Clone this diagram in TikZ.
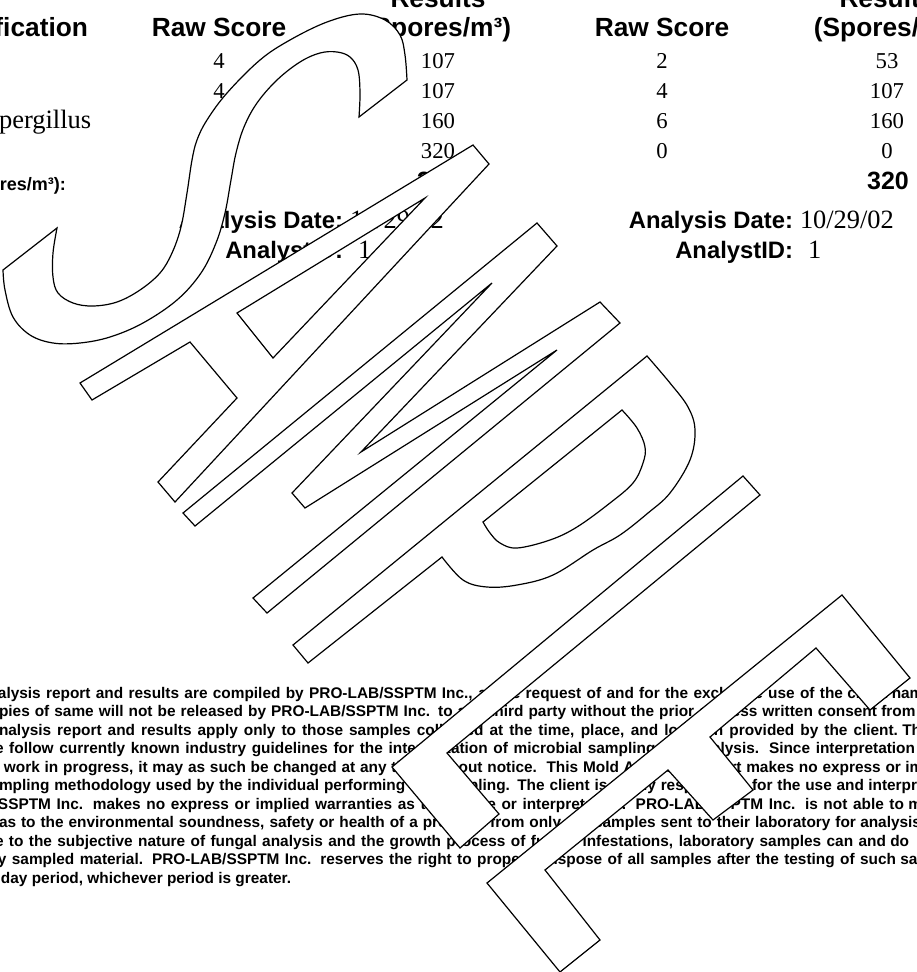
\documentclass[tikz,border=0pt]{standalone}
\usepackage{fontspec}
\setmainfont{Liberation Serif}
\setsansfont{Liberation Sans}
\tikzset{
  hb/.style={font=\sffamily\bfseries\fontsize{26.3}{30}\selectfont, inner sep=0pt, outer sep=0pt, anchor=base},
  lb/.style={font=\sffamily\bfseries\fontsize{23.8}{28}\selectfont, inner sep=0pt, outer sep=0pt, anchor=base east},
  tot/.style={font=\sffamily\bfseries\fontsize{25}{28}\selectfont, inner sep=0pt, outer sep=0pt, anchor=base},
  num/.style={font=\rmfamily\fontsize{22.7}{26}\selectfont, inner sep=0pt, outer sep=0pt, anchor=base},
  nam/.style={font=\rmfamily\fontsize{26.5}{30}\selectfont, inner sep=0pt, outer sep=0pt, anchor=base west},
  val/.style={font=\rmfamily\fontsize{26.4}{30}\selectfont, inner sep=0pt, outer sep=0pt, anchor=base west},
  foot/.style={font=\sffamily\bfseries\fontsize{15.4}{18}\selectfont, inner sep=0pt, outer sep=0pt, anchor=base west},
  wm/.style={draw=black, line width=1.2pt, fill=white, line join=miter},
}
\begin{document}
\begin{tikzpicture}[x=1pt,y=-1pt]
\useasboundingbox (0,0) rectangle (916,972);
\fill[white] (0,0) rectangle (916,972);
\clip (0,0) rectangle (916,972);

% ---------- table header ----------
\node[hb] (res1) at (438,7) {Results};
\node[hb] (res2) at (887,7) {Results};
\node[hb,anchor=base east] (idf) at (88,36) {fication};
\node[hb] (raw1) at (219,36) {Raw Score};
\node[hb] (spo1) at (438,36) {(Spores/m³)};
\node[hb] (raw2) at (662,36) {Raw Score};
\node[hb] (spo2) at (887,36) {(Spores/m³)};

% ---------- table rows ----------
\node[num] (r1a) at (219,68) {4};
\node[num] (r2a) at (219,98) {4};
\node[num] (r1b) at (438,68) {107};
\node[num] (r2b) at (438,98) {107};
\node[num] (r3b) at (438,128) {160};
\node[num] (r4b) at (438,158) {320};
\node[nam] (asp) at (-1,128) {pergillus};
\node[num] (r1c) at (662,68) {2};
\node[num] (r2c) at (662,98) {4};
\node[num] (r3c) at (662,128) {6};
\node[num] (r4c) at (662,158) {0};
\node[num] (r1d) at (887,68) {53};
\node[num] (r2d) at (887,98) {107};
\node[num] (r3d) at (887,128) {160};
\node[num] (r4d) at (887,158) {0};
\node[font=\sffamily\bfseries\fontsize{18}{20}\selectfont, inner sep=0pt, anchor=base east] (totl) at (66,190) {res/m³):};
\node[tot] (tot1) at (438,189) {320};
\node[tot] (tot2) at (888,189) {320};

% ---------- analysis info ----------
\node[lb] (ad1) at (343,228) {Analysis Date:};
\node[val] (dv1) at (350,228) {10/29/02};
\node[lb] (ai1) at (343,258) {AnalystID:};
\node[val] (iv1) at (358,258) {1};
\node[lb] (ad2) at (793,228) {Analysis Date:};
\node[val] (dv2) at (800,228) {10/29/02};
\node[lb] (ai2) at (793,258) {AnalystID:};
\node[val] (iv2) at (808,258) {1};

% ---------- disclaimer ----------
\node[foot] (f1) at (-2,698) {\makebox[845pt][s]{alysis report and results are compiled by PRO-LAB/SSPTM Inc., at the request of and for the exclusive use of the}\ client named};
\node[foot] (f2) at (-1,716.5) {\makebox[878pt][s]{pies of same will not be released by PRO-LAB/SSPTM Inc. to any third party without the prior express written consent}\ from};
\node[foot] (f3) at (-1,735) {\makebox[899pt][s]{nalysis report and results apply only to those samples collected at the time, place, and location provided by the client.}\ The};
\node[foot] (f4) at (-5,753.5) {\makebox[920pt][s]{e follow currently known industry guidelines for the interpretation of microbial sampling and analysis. Since interpretation}\ is};
\node[foot] (f5) at (4,772) {\makebox[897pt][s]{work in progress, it may as such be changed at any time without notice.\ \ This Mold Analysis Report makes no express or}\ implied};
\node[foot] (f6) at (-1,790.5) {\makebox[865pt][s]{mpling methodology used by the individual performing the sampling. The client is solely responsible for the use and}\ interpretation};
\node[foot] (f7) at (-2,809) {\makebox[906pt][s]{SSPTM Inc. makes no express or implied warranties as to the use or interpretation. PRO-LAB/SSPTM Inc. is not able to}\ make};
\node[foot] (f8) at (-1,827.5) {\makebox[857pt][s]{as to the environmental soundness, safety or health of a property from only the samples sent to their laboratory for}\ analysis};
\node[foot] (f9) at (-5,846) {\makebox[891pt][s]{e to the subjective nature of fungal analysis and the growth process of fungal infestations, laboratory samples can and}\ do};
\node[foot] (f10) at (-2,864.5) {\makebox[898pt][s]{y sampled material. PRO-LAB/SSPTM Inc. reserves the right to properly dispose of all samples after the testing of such}\ samples};
\node[foot] (f11) at (1,883) {day period, whichever period is greater.};

% ---------- SAMPLE watermark ----------
% S
\draw[wm] plot[smooth,tension=0.6] coordinates {(3,270)(5,290)(13,317)(30,335)(53,343)(80,343)(110,337)(143,323)(177,300)(201,273)(216,243)(225,213)(231,180)(236,153)(244,127)(257,103)(277,80)(300,62)(320,53)(337,52)(350,57)(358,70)(360,93)(359,117)}
  -- plot[smooth,tension=0.6] coordinates {(407,80)(405,55)(400,35)(385,20)(360,14)(327,22)(290,40)(260,60)(227,93)(207,120)(197,140)(192,160)(187,193)(181,227)(172,253)(160,273)(140,290)(117,302)(93,306)(73,303)(58,293)(53,277)(53,253)(57,228)} -- cycle;
% A
\draw[wm,even odd rule] (473,145) -- (80,383) -- (92,400) -- (190,342) -- (237,398) -- (158,482) -- (175,502) -- (489,164) -- cycle
  (237,313) -- (273,358) -- (425,198) -- cycle;
% M
\draw[wm] (183,513) -- (537,223) -- (557,246) -- (361,452) -- (600,302) -- (620,323) -- (267,613) -- (253,598) -- (557,350) -- (305,508) -- (292,493) -- (492,283) -- (195,526) -- cycle;
% P
\draw[wm,even odd rule] (293,645) -- plot[smooth,tension=0.6] coordinates {(647,356)(670,383)(688,407)(695,430)(690,460)(670,493)(648,513)(620,535)(593,550)(553,575)(517,585)(487,587)(463,580)(442,557)} -- (308,663) -- cycle
  (483,522) -- plot[smooth,tension=0.6] coordinates {(622,410)(637,428)(645,447)(643,463)(633,483)(610,503)(577,527)(550,540)(517,548)(500,543)(490,533)(483,522)} -- cycle;
% L
\draw[wm] (743,476) -- (760,495) -- (447,753) -- (499,814) -- (460,848) -- (392,767) -- cycle;
% E
\draw[wm] (487,883) -- (842,595) -- (910,678) -- (870,710) -- (816,648) -- (710,737) -- (753,790) -- (713,820) -- (668,770) -- (545,870) -- (600,940) -- (560,972) -- cycle;
\end{tikzpicture}
\end{document}
